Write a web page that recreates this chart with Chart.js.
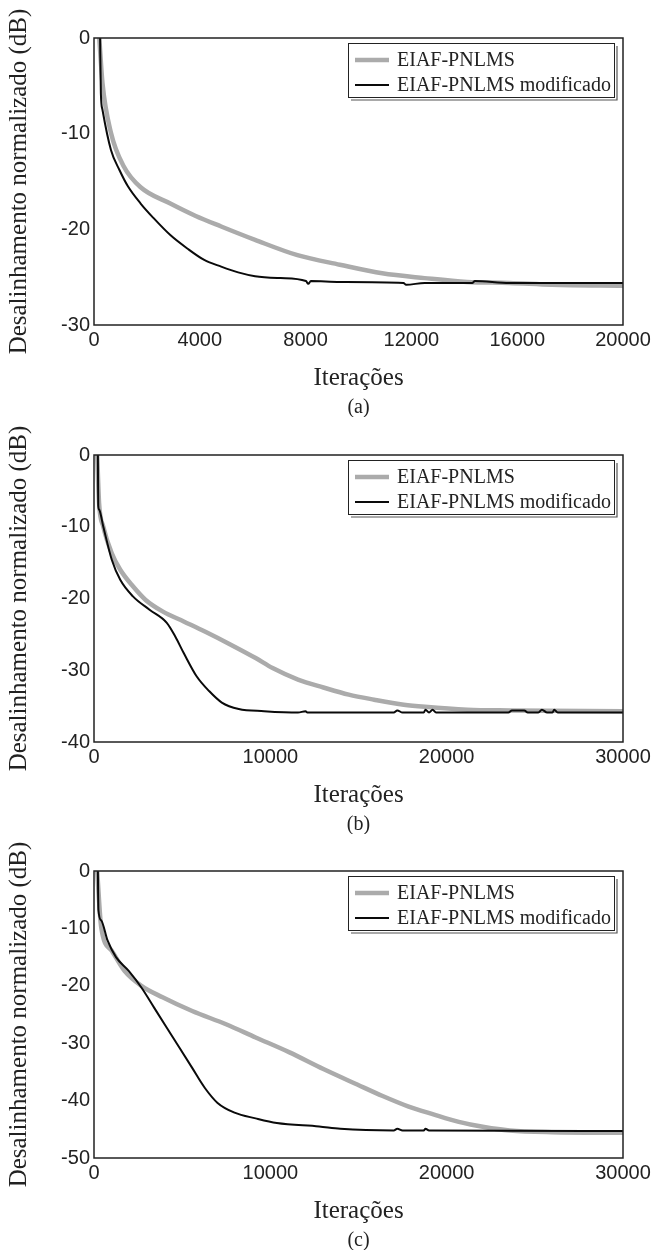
<!DOCTYPE html>
<html><head><meta charset="utf-8">
<script src="https://cdn.jsdelivr.net/npm/chart.js@4.4.0/dist/chart.umd.min.js"></script>
<style>
html,body{margin:0;padding:0;background:#fff;}
#wrap{position:relative;width:666px;height:1252px;}
canvas{position:absolute;left:0;}
</style></head><body>
<div id="wrap">
<canvas id="ca" width="666" height="417" style="top:0;width:666px;height:417px"></canvas>
<canvas id="cb" width="666" height="417" style="top:417px;width:666px;height:417px"></canvas>
<canvas id="cc" width="666" height="417" style="top:833px;width:666px;height:417px"></canvas>
</div>
<script>
const seriesNames = ['EIAF-PNLMS', 'EIAF-PNLMS modificado'];
const captions = ['(a)', '(b)', '(c)'];
const xTitle = 'Iterações';
const yTitle = 'Desalinhamento normalizado (dB)';

// (a)
const aXMax = 20000, aXStep = 4000, aYMin = -30;
const aGrayX = [200, 320, 641, 1122, 1763, 2885, 3846, 4808, 6090, 7692, 9295, 10897, 12500, 14103, 15705, 17308, 20000];
const aGrayY = [0, -4.7, -9.9, -13.4, -15.6, -17.3, -18.6, -19.7, -21.1, -22.7, -23.7, -24.6, -25.1, -25.5, -25.6, -25.8, -25.9];
const aBlackX = [230, 260, 320, 641, 962, 1282, 1763, 2244, 2885, 3526, 4167, 4808, 5449, 6090, 7051, 8013, 8100, 8200, 9295, 11700, 11800, 12500, 14300, 14400, 15705, 20000];
const aBlackY = [0, -5.8, -7.5, -11.7, -13.8, -15.5, -17.3, -18.8, -20.6, -22.0, -23.2, -23.9, -24.5, -24.9, -25.1, -25.4, -25.7, -25.4, -25.5, -25.6, -25.8, -25.6, -25.6, -25.4, -25.6, -25.6];

// (b)
const bXMax = 30000, bXStep = 10000, bYMin = -40;
const bGrayX = [180, 288, 528, 1008, 1488, 2208, 2928, 3888, 5088, 6288, 7728, 9168, 10128, 11568, 13008, 14448, 15888, 17568, 18768, 21168, 23568, 30000];
const bGrayY = [0, -6.7, -10.0, -13.7, -16.0, -18.3, -20.2, -21.8, -23.2, -24.6, -26.4, -28.3, -29.7, -31.3, -32.4, -33.4, -34.1, -34.8, -35.1, -35.5, -35.6, -35.7];
const bBlackX = [220, 240, 288, 528, 1008, 1488, 2208, 3168, 4128, 4608, 5088, 5808, 6528, 7248, 8208, 9648, 11568, 12000, 12100, 17000, 17200, 17500, 18700, 18800, 19000, 19200, 19400, 23500, 23700, 24400, 24600, 25200, 25400, 25700, 26000, 26100, 26300, 30000];
const bBlackY = [0, -7, -7.6, -10.0, -14.6, -17.4, -19.7, -21.6, -23.4, -25.3, -27.6, -30.8, -32.9, -34.5, -35.4, -35.7, -35.9, -35.7, -35.9, -35.9, -35.6, -35.9, -35.9, -35.5, -35.9, -35.5, -35.9, -35.9, -35.6, -35.6, -35.9, -35.9, -35.5, -35.9, -35.9, -35.5, -35.9, -35.9];

// (c)
const cXMax = 30000, cXStep = 10000, cYMin = -50;
const cGrayX = [180, 408, 1008, 1728, 2688, 3888, 5568, 7488, 9168, 11088, 13008, 14928, 16368, 17808, 19248, 20688, 22128, 23568, 25968, 30000];
const cGrayY = [0, -9.8, -13.9, -17.4, -20.0, -22.0, -24.4, -26.7, -29.0, -31.6, -34.5, -37.2, -39.2, -41.0, -42.4, -43.7, -44.6, -45.2, -45.5, -45.6];
const cBlackX = [220, 250, 408, 768, 1248, 1968, 2688, 3408, 4128, 4848, 5568, 6288, 7008, 7968, 9168, 10368, 12768, 13968, 17000, 17200, 17500, 18700, 18800, 19000, 30000];
const cBlackY = [0, -6.8, -8.6, -12.1, -15.0, -17.4, -20.3, -23.8, -27.3, -30.8, -34.3, -37.8, -40.4, -42.1, -43.1, -43.9, -44.5, -44.9, -45.2, -44.9, -45.2, -45.2, -44.9, -45.2, -45.3];

const GRAY = '#ababab', BLACK = '#0a0a0a', INK = '#222222';
const SERIF = "'Liberation Serif', 'Times New Roman', serif";
const SANS = "'Liberation Sans', Arial, sans-serif";

function pts(xs, ys) { return xs.map((x, i) => ({ x: x, y: ys[i] })); }

const framePlugin = {
  id: 'frame',
  afterDatasetsDraw(chart) {
    const a = chart.chartArea, ctx = chart.ctx;
    ctx.save();
    ctx.strokeStyle = INK; ctx.lineWidth = 1.5;
    ctx.strokeRect(a.left, a.top, a.right - a.left, a.bottom - a.top);
    ctx.restore();
  }
};

const captionPlugin = {
  id: 'caption',
  afterDraw(chart, args, opts) {
    const a = chart.chartArea, ctx = chart.ctx;
    ctx.save();
    ctx.font = '20px ' + SERIF;
    ctx.fillStyle = INK;
    ctx.textAlign = 'center';
    ctx.textBaseline = 'middle';
    ctx.fillText(opts.text, (a.left + a.right) / 2, a.bottom + 83);
    ctx.restore();
  }
};

const boxLegend = {
  id: 'boxLegend',
  afterDraw(chart) {
    const a = chart.chartArea, ctx = chart.ctx;
    const L = 348, R = 614, T = a.top + 5, B = a.top + 59;
    ctx.save();
    ctx.fillStyle = '#fff';
    ctx.fillRect(L, T, R - L, B - T);
    ctx.strokeStyle = INK; ctx.lineWidth = 1;
    ctx.strokeRect(L + 0.5, T + 0.5, R - L, B - T);
    ctx.strokeStyle = '#555'; ctx.lineWidth = 1.2;
    ctx.beginPath();
    ctx.moveTo(R + 3, T + 3); ctx.lineTo(R + 3, B + 3); ctx.lineTo(L + 3, B + 3);
    ctx.stroke();
    const ds = chart.data.datasets;
    const legendOrder = [1, 0];
    const rows = [T + 17, T + 42];
    ctx.font = '20px ' + SERIF;
    ctx.textBaseline = 'middle';
    ctx.textAlign = 'left';
    legendOrder.forEach((di, r) => {
      const d = ds[di];
      ctx.strokeStyle = d.borderColor; ctx.lineWidth = d.borderWidth;
      ctx.beginPath(); ctx.moveTo(355, rows[r]); ctx.lineTo(389, rows[r]); ctx.stroke();
      ctx.fillStyle = INK;
      ctx.fillText(d.label, 397, rows[r] + 1);
    });
    ctx.restore();
  }
};

function makeChart(id, caption, xMax, xStep, yMin, grayX, grayY, blackX, blackY) {
  return new Chart(document.getElementById(id), {
    type: 'line',
    data: {
      datasets: [
        { label: seriesNames[1], data: pts(blackX, blackY), borderColor: BLACK, borderWidth: 2, pointRadius: 0,
          cubicInterpolationMode: 'monotone', order: 1 },
        { label: seriesNames[0], data: pts(grayX, grayY), borderColor: GRAY, borderWidth: 4.5, pointRadius: 0,
          cubicInterpolationMode: 'monotone', order: 2 }
      ]
    },
    options: {
      responsive: false, animation: false, devicePixelRatio: 1,
      layout: { padding: { left: 0, right: 43, top: 38, bottom: 20 } },
      plugins: {
        legend: { display: false },
        tooltip: { enabled: false },
        title: { display: false },
        caption: { text: caption }
      },
      scales: {
        x: {
          type: 'linear', min: 0, max: xMax,
          grid: { display: false, drawTicks: false },
          border: { display: false },
          ticks: { stepSize: xStep, padding: 3, color: INK, font: { family: SANS, size: 20 },
                   maxRotation: 0, autoSkip: false, callback: v => String(v) },
          title: { display: true, text: xTitle, color: INK, font: { family: SERIF, size: 25 }, padding: { top: 0, bottom: 4 } },
          afterFit: s => { s.height = 72; }
        },
        y: {
          type: 'linear', min: yMin, max: 0,
          grid: { display: false, drawTicks: false },
          border: { display: false },
          ticks: { stepSize: 10, padding: 4, color: INK, font: { family: SANS, size: 20 }, callback: v => String(v) },
          title: { display: true, text: yTitle, color: INK, font: { family: SERIF, size: 25 }, padding: { top: 4, bottom: 0 } },
          afterFit: s => { s.width = 94; }
        }
      }
    },
    plugins: [framePlugin, boxLegend, captionPlugin]
  });
}

makeChart('ca', captions[0], aXMax, aXStep, aYMin, aGrayX, aGrayY, aBlackX, aBlackY);
makeChart('cb', captions[1], bXMax, bXStep, bYMin, bGrayX, bGrayY, bBlackX, bBlackY);
makeChart('cc', captions[2], cXMax, cXStep, cYMin, cGrayX, cGrayY, cBlackX, cBlackY);
</script>
</body></html>
